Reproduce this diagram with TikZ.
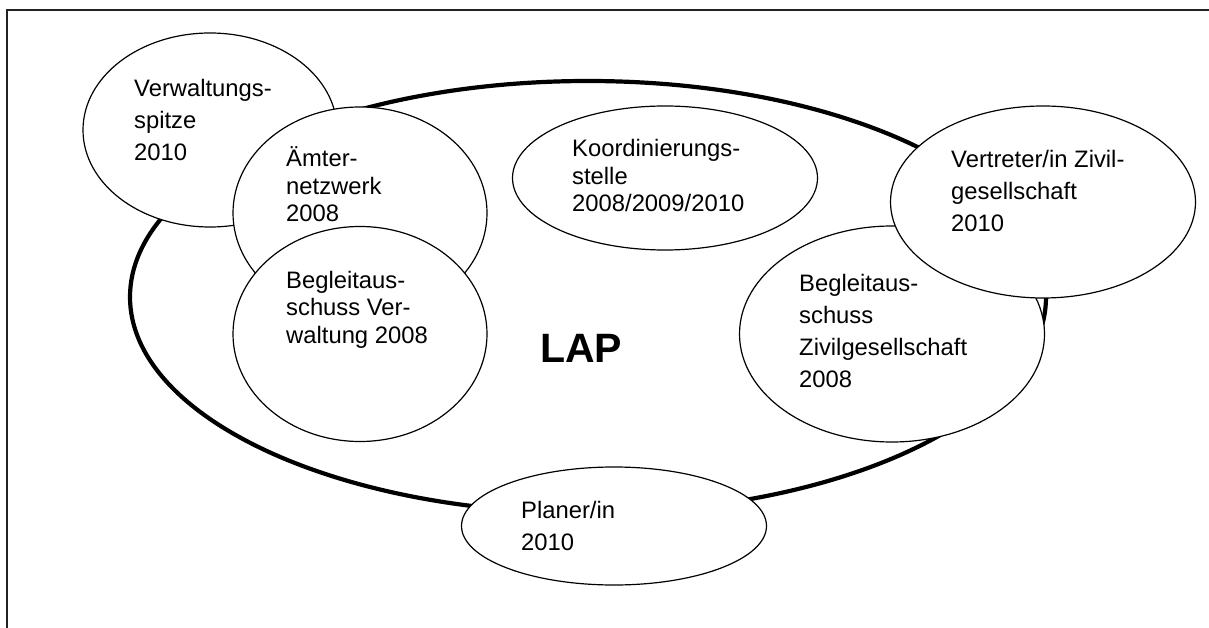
\documentclass[tikz,border=0pt]{standalone}
\usepackage{fontspec}
\setmainfont{Liberation Sans}
\usepackage{xcolor}
\usetikzlibrary{shapes.geometric}
\definecolor{frameline}{HTML}{222222}

\begin{document}
\begin{tikzpicture}[x=1pt, y=-1pt,
  bubble/.style={ellipse, draw=black, line width=1.2pt, fill=white, inner sep=0pt},
  narrow/.style={bubble, minimum width=254pt},
  wide/.style={bubble, minimum width=305pt},
  lbl/.style={anchor=base west, inner sep=0pt, align=left,
    font=\fontsize{23.8}{32}\selectfont},
  tight/.style={lbl, font=\fontsize{23.8}{27.5}\selectfont}]
\useasboundingbox (0,0) rectangle (1209,628);
\draw[frameline, line width=1.6pt] (7,628) -- (7,10) -- (1209,10);

% the LAP ring (text nodes sit on the baseline of their last line)
\node[bubble, fill=none, line width=4.2pt, minimum width=916pt, minimum height=432pt] (lap) at (588,297) {};
\node[lbl, font=\fontsize{41}{48}\selectfont\bfseries] (laptxt) at (540,362) {LAP};

% left group
\node[narrow, minimum height=194pt] (spitze) at (210,130) {};
\node[lbl] (spitzetxt) at (134,161) {Verwaltungs-\\spitze\\2010};
\node[narrow, minimum height=212pt] (aemter) at (360,213) {};
\node[tight] (aemtertxt) at (286,222) {Ämter-\\netzwerk\\2008};
\node[narrow, minimum height=215pt] (bav) at (360,334) {};
\node[tight] (bavtxt) at (286,343) {Begleitaus-\\schuss Ver-\\waltung 2008};

% top
\node[wide, minimum height=144pt] (koord) at (665,178) {};
\node[tight] (koordtxt) at (572,212) {Koordinierungs-\\stelle\\2008/2009/2010};

% right group
\node[wide, minimum height=216pt] (bzg) at (892,334) {};
\node[lbl] (bzgtxt) at (799,387) {Begleitaus-\\schuss\\Zivilgesellschaft\\2008};
\node[wide, minimum height=192pt] (vertreter) at (1043,202) {};
\node[lbl] (vertretertxt) at (951,232) {Vertreter/in Zivil-\\gesellschaft\\2010};

% bottom
\node[wide, minimum height=118pt] (planer) at (614,526) {};
\node[lbl] (planertxt) at (521,550) {Planer/in\\2010};
\end{tikzpicture}
\end{document}
